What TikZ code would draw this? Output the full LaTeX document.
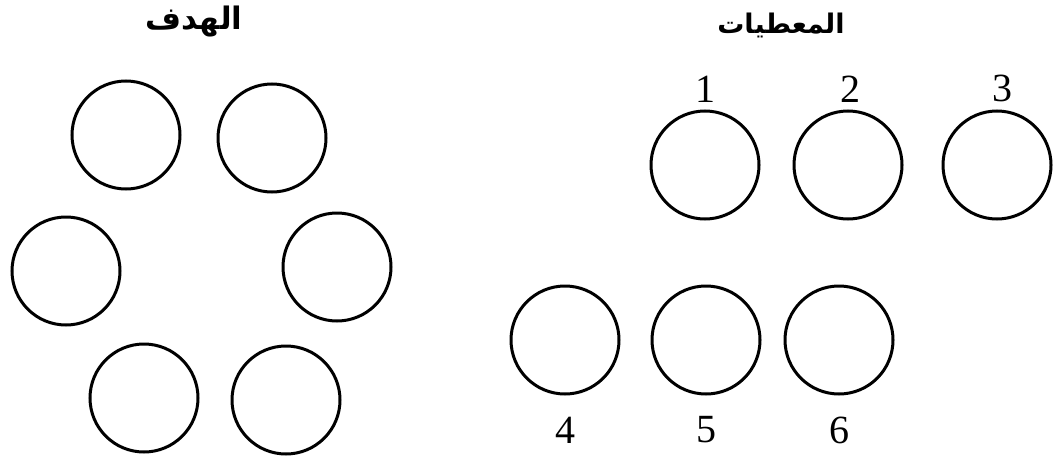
\documentclass[tikz,border=0pt]{standalone}
\usepackage{fontspec}
\usetikzlibrary{positioning}
\TeXXeTstate=1
\newfontfamily\arabicfont[Script=Arabic]{DejaVu Sans}
\newfontfamily\numfont{Liberation Serif}

\begin{document}
\begin{tikzpicture}[x=1pt,y=-1pt,
        ring/.style={draw,circle,line width=3pt,minimum size=108pt,inner sep=0pt},
        num/.style={font=\numfont\fontsize{40}{40}\selectfont,inner sep=0pt},
        heading/.style={font=\arabicfont\bfseries\fontsize{#1}{30}\selectfont,inner sep=0pt}]
            \useasboundingbox (0,0) rectangle (1054,460);

            \node[heading=31] (hadaf) at (194,22) {\beginR الهدف\endR};
            \node[heading=27] (muatayat) at (781,25) {\beginR المعطيات\endR};

            \node[ring] (t1) at (126,135) {};
            \node[ring] (t2) at (272,138) {};
            \node[ring] (t3) at (66,271) {};
            \node[ring] (t4) at (337,267) {};
            \node[ring] (t5) at (144,398) {};
            \node[ring] (t6) at (286,400) {};

            \node[ring] (g1) at (705,165) {};
            \node[ring] (g2) at (848,165) {};
            \node[ring] (g3) at (997,165) {};
            \node[ring] (g4) at (565,340) {};
            \node[ring] (g5) at (706,340) {};
            \node[ring] (g6) at (839,340) {};

            \node[num,above=7pt of g1] (n1) {1};
            \node[num,above=7pt of g2,xshift=2pt] (n2) {2};
            \node[num,above=7pt of g3,xshift=5pt] (n3) {3};
            \node[num,below=21pt of g4] (n4) {4};
            \node[num,below=21pt of g5] (n5) {5};
            \node[num,below=21pt of g6] (n6) {6};
        \end{tikzpicture}
\end{document}
